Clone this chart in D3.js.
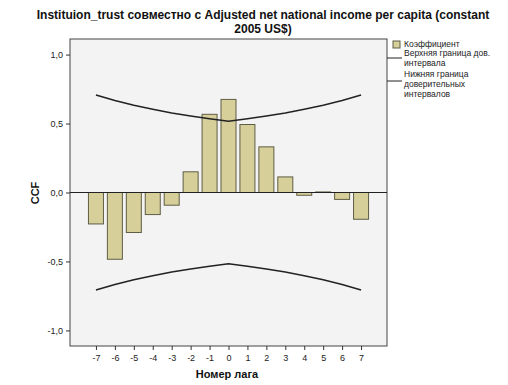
<!DOCTYPE html>
<html>
<head>
<meta charset="utf-8">
<script src="https://cdn.jsdelivr.net/npm/d3@7"></script>
<style>
  body { margin: 0; background: #fff; }
  text { font-family: "Liberation Sans", Arial, sans-serif; }
</style>
</head>
<body>
<div id="chart"></div>
<script>
// lag numbers and cross-correlation coefficients
var lags = [-7, -6, -5, -4, -3, -2, -1, 0, 1, 2, 3, 4, 5, 6, 7];
var ccfValues = [-0.228, -0.484, -0.290, -0.160, -0.092, 0.150, 0.567, 0.675, 0.493, 0.331, 0.113, -0.020, 0.004, -0.050, -0.194];
// confidence limits
var upperLimit = [0.707, 0.667, 0.632, 0.603, 0.577, 0.555, 0.535, 0.516, 0.535, 0.555, 0.577, 0.603, 0.632, 0.667, 0.707];
var lowerLimit = [-0.707, -0.667, -0.632, -0.603, -0.577, -0.555, -0.535, -0.516, -0.535, -0.555, -0.577, -0.603, -0.632, -0.667, -0.707];
var yTicks = [-1.0, -0.5, 0.0, 0.5, 1.0];
var legendLabels = [
  ["Коэффициент"],
  ["Верхняя граница дов.", "интервала"],
  ["Нижняя граница", "доверительных", "интервалов"]
];
var titleLines = ["Instituion_trust совместно с Adjusted net national income per capita (constant", "2005 US$)"];

var width = 508, height = 385;
var plot = { left: 70, right: 387, top: 39, bottom: 346 };

var svg = d3.select("#chart").append("svg")
  .attr("width", width)
  .attr("height", height);

/** Scales */
var x = d3.scaleLinear().domain([-8.37, 8.37]).range([plot.left, plot.right]);
var y = d3.scaleLinear().domain([-1.113, 1.113]).range([plot.bottom, plot.top]);
var barWidth = 15;

/** Plot background */
svg.append("rect")
  .attr("x", plot.left).attr("y", plot.top)
  .attr("width", plot.right - plot.left).attr("height", plot.bottom - plot.top)
  .attr("fill", "#f3f3f3")
  .attr("stroke", "#444").attr("stroke-width", 1);

/** Title */
svg.append("g").selectAll("text")
  .data(titleLines).enter().append("text")
  .attr("x", 263).attr("y", function(d, i){ return 19 + i * 14; })
  .attr("text-anchor", "middle")
  .attr("font-size", "12px").attr("font-weight", "bold")
  .attr("fill", "#111")
  .text(function(d){ return d; });

/** Axes */
var hyphen = function(s){ return s.replace("−", "-"); };
var fmtY = function(d){ return hyphen(d3.format(".1f")(d).replace(".", ",")); };
var fmtX = function(d){ return hyphen(d3.format("d")(d)); };
var yAxis = svg.append("g")
  .attr("transform", "translate(" + plot.left + ",0)")
  .call(d3.axisLeft(y).tickValues(yTicks).tickSize(4).tickSizeOuter(0).tickFormat(fmtY));
var xAxis = svg.append("g")
  .attr("transform", "translate(0," + plot.bottom + ")")
  .call(d3.axisBottom(x).tickValues(lags).tickSize(4).tickSizeOuter(0).tickFormat(fmtX));
[yAxis, xAxis].forEach(function(ax){
  ax.select(".domain").remove();
  ax.selectAll("line").attr("stroke", "#333");
  ax.selectAll("text").attr("font-size", "9px").attr("fill", "#222")
    .attr("font-family", "'Liberation Sans', Arial, sans-serif");
});
xAxis.selectAll("text").attr("dy", "0.9em");

/** Bars */
svg.append("g").selectAll("rect")
  .data(ccfValues).enter().append("rect")
  .attr("x", function(d, i){ return x(lags[i]) - barWidth / 2; })
  .attr("y", function(d){ return y(Math.max(0, d)); })
  .attr("width", barWidth)
  .attr("height", function(d){ return Math.abs(y(d) - y(0)); })
  .attr("fill", "#d7cf9a")
  .attr("stroke", "#5f5d45").attr("stroke-width", 1);

/** Zero line */
svg.append("line")
  .attr("x1", plot.left).attr("x2", plot.right)
  .attr("y1", y(0)).attr("y2", y(0))
  .attr("stroke", "#222").attr("stroke-width", 1.2);

/** Confidence limits */
var line = d3.line()
  .x(function(d, i){ return x(lags[i]); })
  .y(function(d){ return y(d); });
[upperLimit, lowerLimit].forEach(function(lim){
  svg.append("path")
    .attr("d", line(lim))
    .attr("fill", "none")
    .attr("stroke", "#222").attr("stroke-width", 1.5);
});

/** Axis titles */
svg.append("text")
  .attr("transform", "translate(39,193) rotate(-90)")
  .attr("text-anchor", "middle")
  .attr("font-size", "11px").attr("font-weight", "bold").attr("fill", "#111")
  .text("CCF");
svg.append("text")
  .attr("x", 227).attr("y", 378)
  .attr("text-anchor", "middle")
  .attr("font-size", "11px").attr("font-weight", "bold").attr("fill", "#111")
  .text("Номер лага");

/** Legend */
var legend = svg.append("g");
legend.append("rect")
  .attr("x", 393).attr("y", 41).attr("width", 7).attr("height", 7)
  .attr("fill", "#d7cf9a").attr("stroke", "#5f5d45");
var legendLineY = [58, 81];
legendLineY.forEach(function(ly){
  legend.append("line")
    .attr("x1", plot.right).attr("x2", 402)
    .attr("y1", ly).attr("y2", ly)
    .attr("stroke", "#222").attr("stroke-width", 1);
});
var legendTextY = [47, 56, 77];
legendLabels.forEach(function(lines, i){
  legend.append("g").selectAll("text")
    .data(lines).enter().append("text")
    .attr("x", 404).attr("y", function(d, j){ return legendTextY[i] + j * 10; })
    .attr("font-size", "8.5px").attr("fill", "#222")
    .text(function(d){ return d; });
});
</script>
</body>
</html>
